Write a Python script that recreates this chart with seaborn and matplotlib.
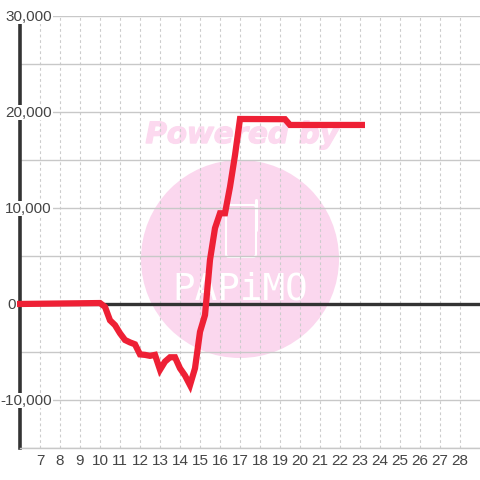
import matplotlib
matplotlib.use("Agg")
import matplotlib.pyplot as plt
import matplotlib.patheffects as pe
from matplotlib.lines import Line2D
from matplotlib.patches import Circle, FancyBboxPatch
import seaborn as sns

# quarter-hour readings, flat stretches kept as end points only
hours = [5.85, 10, 10.25, 10.5, 10.75, 11, 11.25, 11.5, 11.75, 12, 12.25, 12.5, 12.75,
         13, 13.25, 13.5, 13.75, 14, 14.25, 14.5, 14.75, 15, 15.25, 15.5, 15.75,
         16, 16.25, 16.5, 16.75, 17, 19.25, 19.5, 23.25]
values = [0, 100, -300, -1700, -2200, -3050, -3750, -4000, -4200, -5250, -5300, -5400, -5300,
          -6850, -6000, -5550, -5550, -6700, -7450, -8450, -6700, -2900, -1150, 4600, 7900,
          9450, 9450, 12200, 15500, 19270, 19250, 18650, 18650]
x_ticks = list(range(7, 29))
y_ticks = [-15000, -10000, -5000, 0, 5000, 10000, 15000, 20000, 25000, 30000]
y_labels = {30000: "30,000", 20000: "20,000", 10000: "10,000", 0: "0", -10000: "-10,000"}

sns.set_style("white")
plt.rcParams["font.family"] = ["Liberation Sans", "DejaVu Sans"]

fig = plt.figure(figsize=(4.8, 4.8), dpi=100)
ax = fig.add_axes([20 / 480, 32 / 480, 460 / 480, 432 / 480])
ax.patch.set_alpha(0)


def fx(px):
    return px / 480


def fy(py):
    return 1 - py / 480


# watermark sits behind the axes
pink = "#fbd7ee"
fig.add_artist(Circle((fx(240), fy(259)), 99 / 480, transform=fig.transFigure,
                      facecolor=pink, edgecolor="none", zorder=-3))
fig.add_artist(FancyBboxPatch((fx(226), fy(257)), 30 / 480, 52 / 480,
                              boxstyle="round,pad=0,rounding_size=0.006",
                              transform=fig.transFigure, facecolor="none",
                              edgecolor="white", linewidth=1.5, zorder=-2))
fig.add_artist(Line2D([fx(256), fx(256)], [fy(230), fy(200)], transform=fig.transFigure,
                      color="white", linewidth=2.2, zorder=-2))
fig.text(fx(240), fy(289), "PAPiMO", color="white", fontsize=27, family="DejaVu Sans Mono",
         ha="center", va="center", zorder=-2)
fig.text(fx(242), fy(135), "Powered by", color="#fcd9ef", fontsize=21, family="DejaVu Sans",
         weight="bold", style="italic", ha="center", va="center", zorder=-2,
         path_effects=[pe.withStroke(linewidth=1, foreground="#fcd9ef")])

sns.lineplot(x=hours, y=values, ax=ax, color="#ee2035", linewidth=4.5, zorder=5,
             solid_joinstyle="miter", solid_capstyle="butt", clip_on=False)

ax.set_xlim(6, 29)
ax.set_ylim(-15000, 30000)
ax.set_xticks(x_ticks)
ax.set_yticks(y_ticks)
ax.set_xticklabels([str(h) for h in x_ticks])
ax.set_yticklabels([])
ax.tick_params(axis="both", length=0)
ax.tick_params(axis="x", labelsize=11, labelcolor="#444444", pad=4)

ax.grid(True, axis="y", color="#c8c8c8", linewidth=1)
ax.grid(True, axis="x", color="#cccccc", linewidth=0.8, linestyle=(0, (2.5, 2.5)))
ax.set_axisbelow(True)

for side in ["top", "right"]:
    ax.spines[side].set_visible(False)
ax.spines["bottom"].set_color("#c8c8c8")
ax.spines["bottom"].set_linewidth(1)
ax.spines["left"].set_color("#333333")
ax.spines["left"].set_linewidth(2.6)
ax.spines["left"].set_bounds(-15000, 29200)

ax.axhline(0, color="#333333", linewidth=2.4, zorder=4)

# y labels sit on a white box over the axis and the grid
for val, lab in y_labels.items():
    xpos = 5.8 if val == 0 else 7.6
    ax.text(xpos, val - 60, lab, ha="right", va="center", fontsize=11, color="#444444", zorder=6,
            clip_on=False, bbox=dict(facecolor="white" if val else "none", edgecolor="none", pad=0.5))

fig.savefig("out.png", dpi=100)
